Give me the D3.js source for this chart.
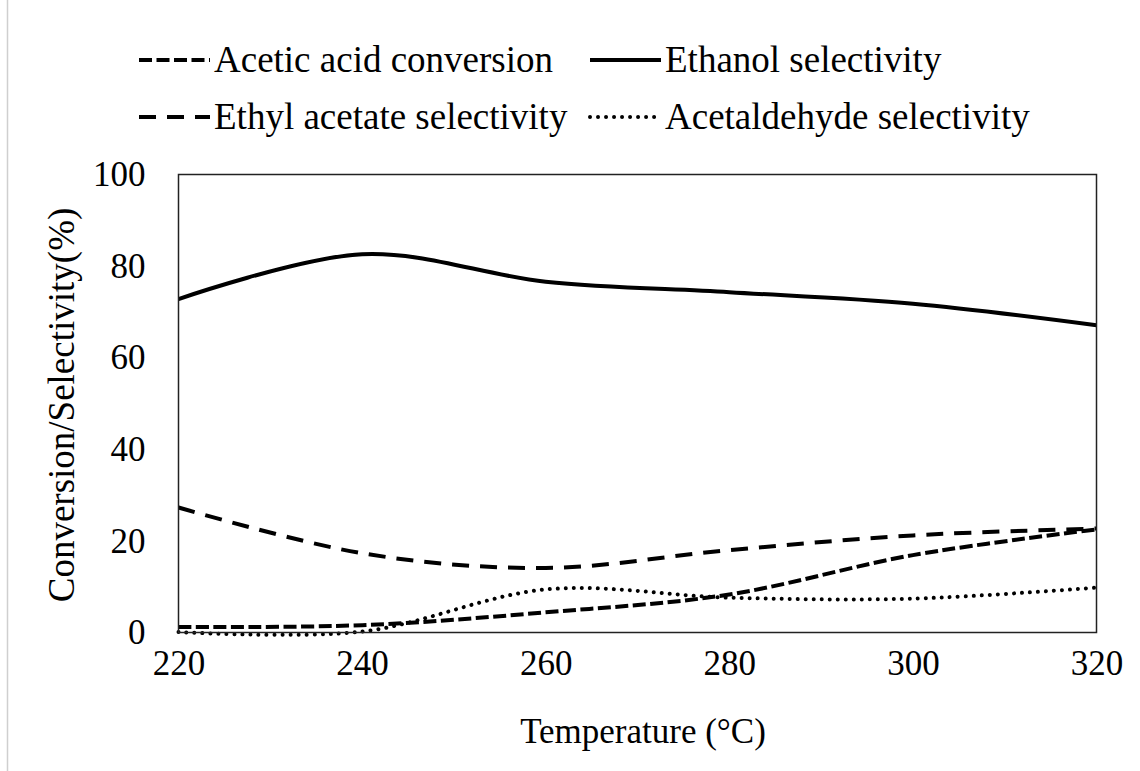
<!DOCTYPE html>
<html>
<head>
<meta charset="utf-8">
<script src="https://cdn.jsdelivr.net/npm/d3@7"></script>
<style>
body{margin:0;background:#fff;}
svg text{font-family:"Liberation Serif","Times New Roman",serif;fill:#000;}
</style>
</head>
<body>
<svg id="chart" width="1140" height="771"></svg>
<script>
'use strict';

// temperatures (degC) and measured values (%)
var temps=[220,240,260,280,300,320];
var aceticConversion=[1.2,1.6,4.4,8.3,16.9,22.5];
var ethanolSelectivity=[72.8,82.6,76.6,74.3,71.8,67.1];
var ethylAcetateSelectivity=[27.3,17.3,14.1,18.0,21.2,22.7];
var acetaldehydeSelectivity=[0.1,0.2,9.4,7.6,7.4,9.8];
var xTicks=[220,240,260,280,300,320];
var yTicks=[0,20,40,60,80,100];

var series=[
    {name:'Acetic acid conversion',values:aceticConversion,dash:'13,4.5',w:4,cap:'butt'},
    {name:'Ethanol selectivity',values:ethanolSelectivity,dash:null,w:4,cap:'butt'},
    {name:'Ethyl acetate selectivity',values:ethylAcetateSelectivity,dash:'17,11',w:4,cap:'butt'},
    {name:'Acetaldehyde selectivity',values:acetaldehydeSelectivity,dash:'0.01,8',w:4,cap:'round'}
];

var svg=d3.select('#chart')
  , box={left:178.5,right:1096.5,top:174.5,bottom:632.5}
  , x=d3.scaleLinear().domain([220,320]).range([box.left,box.right])
  , y=d3.scaleLinear().domain([0,100]).range([box.bottom,box.top]);

// faint page edge on the left
svg.append('line')
    .attr('x1',7.5).attr('x2',7.5)
    .attr('y1',0).attr('y2',771)
    .attr('stroke','#cfcfcf')
    .attr('stroke-width',1.5);

var line=d3.line()
    .x(function(d){return x(d.t);})
    .y(function(d){return y(d.v);})
    .curve(d3.curveCardinal.tension(0));

series.forEach(function(s){
    var pts=temps.map(function(t,i){return {t:t,v:s.values[i]};});
    svg.append('path')
        .datum(pts)
        .attr('d',line)
        .attr('fill','none')
        .attr('stroke','#000')
        .attr('stroke-width',s.w)
        .attr('stroke-linecap',s.cap)
        .attr('stroke-dasharray',s.dash);
});

// plot frame
svg.append('rect')
    .attr('x',box.left).attr('y',box.top)
    .attr('width',box.right-box.left)
    .attr('height',box.bottom-box.top)
    .attr('fill','none')
    .attr('stroke','#222')
    .attr('stroke-width',1.5);

// axes: labels only, no ticks
var xAxis=svg.append('g')
    .attr('transform','translate(0,'+box.bottom+')')
    .call(d3.axisBottom(x).tickValues(xTicks).tickSize(0));
var yAxis=svg.append('g')
    .attr('transform','translate('+box.left+',0)')
    .call(d3.axisLeft(y).tickValues(yTicks).tickSize(0).tickPadding(33));

[xAxis,yAxis].forEach(function(a){
    a.select('.domain').remove();
    a.selectAll('text')
        .style('font-family','"Liberation Serif","Times New Roman",serif')
        .style('font-size','35px')
        .attr('fill','#000');
});
xAxis.selectAll('text').attr('dy',null).attr('y',42);

svg.append('text')
    .attr('x',643).attr('y',743)
    .attr('text-anchor','middle')
    .style('font-size','35px')
    .text('Temperature (°C)');

svg.append('text')
    .attr('transform','translate(74,405) rotate(-90)')
    .attr('text-anchor','middle')
    .style('font-size','37px')
    .text('Conversion/Selectivity(%)');

// legend, two rows of two
var legendPos=[[139,60],[590,60],[139,117],[590,117]];
series.forEach(function(s,i){
    var p=legendPos[i]
      , g=svg.append('g').attr('transform','translate('+p[0]+','+p[1]+')');
    g.append('line')
        .attr('x1',0).attr('x2',71)
        .attr('y1',0).attr('y2',0)
        .attr('stroke','#000')
        .attr('stroke-width',s.w)
        .attr('stroke-linecap',s.cap)
        .attr('stroke-dasharray',s.dash);
    g.append('text')
        .attr('x',75).attr('y',12)
        .style('font-size','37px')
        .text(s.name);
});
</script>
</body>
</html>
